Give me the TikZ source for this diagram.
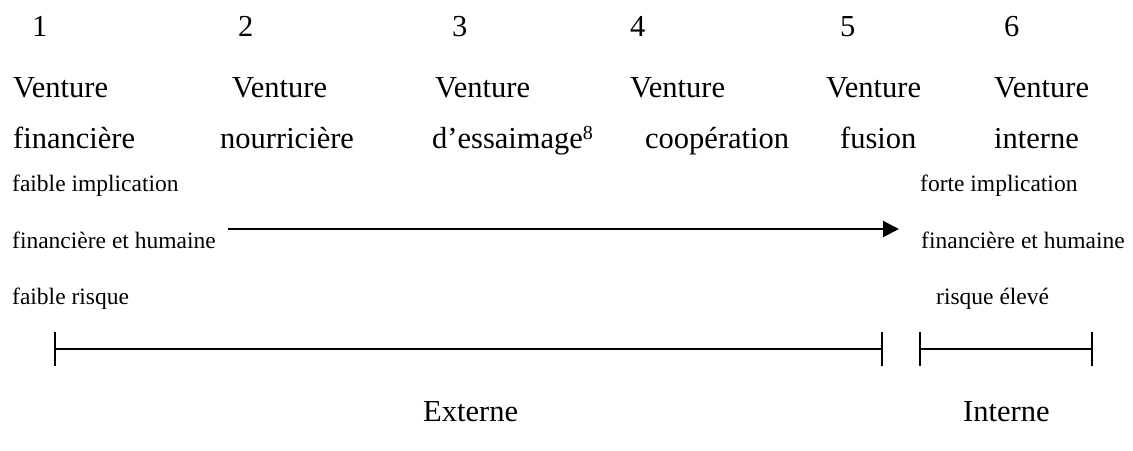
\documentclass[tikz,border=0pt]{standalone}
\usepackage{fontspec}
\setmainfont{Liberation Serif}
\usetikzlibrary{arrows.meta}
\tikzset{
  big/.style={inner sep=0pt, anchor=base west, font=\fontsize{30.5}{36}\selectfont},
  small/.style={inner sep=0pt, anchor=base west, font=\fontsize{23.5}{28}\selectfont},
  bar/.style={line width=1.8pt},
  tick/.style={line width=1.4pt},
  arr/.style={line width=2pt, -{Triangle[length=16pt,width=16pt]}}
}
\begin{document}
\begin{tikzpicture}[x=1pt,y=-1pt]
\useasboundingbox (0,0) rectangle (1133,450);
% numbers
\node[big] (n1) at (32,36) {1};
\node[big] (n2) at (238,36) {2};
\node[big] (n3) at (452,36) {3};
\node[big] (n4) at (630,36) {4};
\node[big] (n5) at (840,36) {5};
\node[big] (n6) at (1004,36) {6};
% Venture
\node[big] (v1) at (13,97) {Venture};
\node[big] (v2) at (232,97) {Venture};
\node[big] (v3) at (435,97) {Venture};
\node[big] (v4) at (630,97) {Venture};
\node[big] (v5) at (826,97) {Venture};
\node[big] (v6) at (994,97) {Venture};
% second words
\node[big] (w1) at (13,148) {financière};
\node[big] (w2) at (220,148) {nourricière};
\node[big] (w3) at (432,148) {d’essaimage\raisebox{9pt}{\fontsize{20}{24}\selectfont 8}};
\node[big] (w4) at (645,148) {coopération};
\node[big] (w5) at (840,148) {fusion};
\node[big] (w6) at (994,148) {interne};
% small labels left
\node[small] (l1) at (12,191) {faible implication};
\node[small] (l2) at (12,248) {financière et humaine};
\node[small] (l3) at (12,304) {faible risque};
% small labels right
\node[small] (r1) at (920,191) {forte implication};
\node[small] (r2) at (921,248) {financière et humaine};
\node[small] (r3) at (936,304) {risque élevé};
% arrow
\coordinate (as) at (228,229);
\coordinate (ae) at (899,229);
\draw[arr] (as) -- (ae);
% bars
\coordinate (e1) at (55,349);
\coordinate (e2) at (882,349);
\coordinate (i1) at (920,349);
\coordinate (i2) at (1092,349);
\draw[bar] (e1) -- (e2);
\draw[bar] (i1) -- (i2);
\foreach \c in {e1,e2,i1,i2}{
  \draw[tick] ([yshift=-17pt]\c) -- ([yshift=17pt]\c);
}
% bottom labels
\node[big] (ext) at (423,421) {Externe};
\node[big] (int) at (963,421) {Interne};
\end{tikzpicture}
\end{document}
